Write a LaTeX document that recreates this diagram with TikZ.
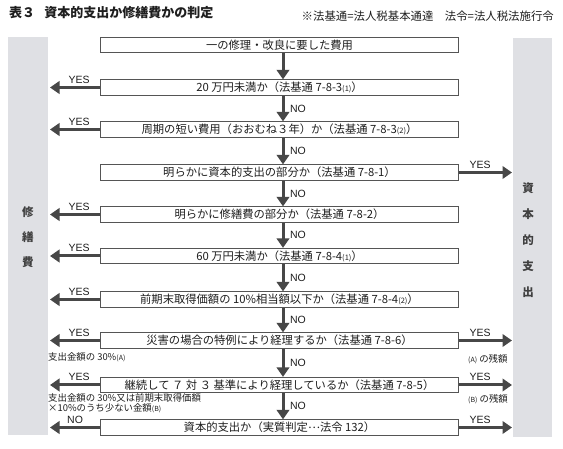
\documentclass[tikz,border=0pt]{standalone}
\usepackage{fontspec}
\setmainfont{Noto Sans CJK JP}
\newfontfamily\lat{Liberation Sans}
\usetikzlibrary{arrows.meta}
\definecolor{panel}{HTML}{DFE0E4}
\definecolor{ink}{HTML}{474747}
\definecolor{boxc}{HTML}{555555}
\definecolor{txt}{HTML}{1E1E1E}
\newcommand{\pn}[1]{{\fontsize{7.5}{8}\selectfont(#1)}}
\newcommand{\sm}[1]{{\fontsize{7}{7}\selectfont(#1)}}
\begin{document}
\begin{tikzpicture}[x=1pt,y=-1pt,
  box/.style={draw=boxc, line width=0.8pt, minimum width=358pt, minimum height=15.5pt,
    inner sep=0pt, text=txt, font=\fontsize{11.3}{12}\selectfont},
  darr/.style={draw=ink, line width=3pt, -{Triangle[width=12.5pt,length=9.5pt]}},
  yn/.style={text=txt, font=\lat\fontsize{10.5}{11}\selectfont, inner sep=0.5pt},
  note/.style={text=txt, font=\fontsize{9.4}{10}\selectfont, inner sep=0pt, anchor=west, align=left},
  side/.style={text=txt!85, font=\bfseries\fontsize{11.5}{12}\selectfont}
]
\fill[white] (0,0) rectangle (563,449);
\useasboundingbox (0,0) rectangle (563,449);
% title
\node[anchor=west, inner sep=0pt, text=txt, font=\bfseries\fontsize{13}{14}\selectfont] (title) at (9,13) {表３\hspace{0.7em}資本的支出か修繕費かの判定};
\node[anchor=east, inner sep=0pt, text=txt, font=\fontsize{11.4}{12}\selectfont] (legend) at (554,16) {※法基通=法人税基本通達\hspace{1em}法令=法人税法施行令};
% panels
\fill[panel] (8,37) rectangle (48,435);
\fill[panel] (513,38) rectangle (552,437);
\node[side] (p1) at (28,212) {修};
\node[side] (p2) at (28,237) {繕};
\node[side] (p3) at (28,262) {費};
\node[side] (q1) at (528,188) {資};
\node[side] (q2) at (528,214) {本};
\node[side] (q3) at (528,240) {的};
\node[side] (q4) at (528,266) {支};
\node[side] (q5) at (528,292) {出};
% boxes
\node[box] (b1) at (279.5,45) {一の修理・改良に要した費用};
\node[box] (b2) at (279.5,87.5) {20 万円未満か（法基通 7-8-3\pn{1}）};
\node[box] (b3) at (279.5,129.5) {周期の短い費用（おおむね３年）か（法基通 7-8-3\pn{2}）};
\node[box] (b4) at (279.5,172.5) {明らかに資本的支出の部分か（法基通 7-8-1）};
\node[box] (b5) at (279.5,214.5) {明らかに修繕費の部分か（法基通 7-8-2）};
\node[box] (b6) at (279.5,256) {60 万円未満か（法基通 7-8-4\pn{1}）};
\node[box] (b7) at (279.5,299.5) {前期末取得価額の 10\%相当額以下か（法基通 7-8-4\pn{2}）};
\node[box] (b8) at (279.5,340.5) {災害の場合の特例により経理するか（法基通 7-8-6）};
\node[box] (b9) at (279.5,385) {継続して ７ 対 ３ 基準により経理しているか（法基通 7-8-5）};
\node[box] (b10) at (279.5,427.5) {資本的支出か（実質判定\raisebox{0.3em}{…}法令 132）};
% down arrows
\draw[darr] ([xshift=3.5pt]b1.south) -- ([xshift=3.5pt]b2.north);
\foreach \a/\b in {2/3,3/4,4/5,5/6,6/7,7/8,8/9,9/10}{
  \draw[darr] ([xshift=3.5pt]b\a.south) -- node[yn, anchor=west, xshift=5pt] {NO} ([xshift=3.5pt]b\b.north);
}
% left arrows
\foreach \i/\y in {2/87.5,3/129.5,5/214.5,6/256,7/299.5,8/340.5,9/385}{
  \coordinate (L\i) at (50,\y);
  \draw[darr] (b\i.west) -- node[yn, pos=0.42, above=2pt] {YES} (L\i);
}
\coordinate (L10) at (50,427.5);
\draw[darr] (b10.west) -- node[yn, pos=0.5, above=2pt] {NO} (L10);
% right arrows
\foreach \i/\y in {4/172.5,8/340.5,9/385,10/427.5}{
  \coordinate (R\i) at (512,\y);
  \draw[darr] (b\i.east) -- node[yn, pos=0.4, above=2pt] {YES} (R\i);
}
% notes
\node[note] (nA) at (48,357) {支出金額の 30\%\sm{A}};
\node[note] (nB) at (48,403.5) {支出金額の 30\%又は前期末取得価額\\×10\%のうち少ない金額\sm{B}};
\node[note] (rA) at (468,359.5) {\sm{A} の残額};
\node[note] (rB) at (468,399.5) {\sm{B} の残額};
\end{tikzpicture}
\end{document}
